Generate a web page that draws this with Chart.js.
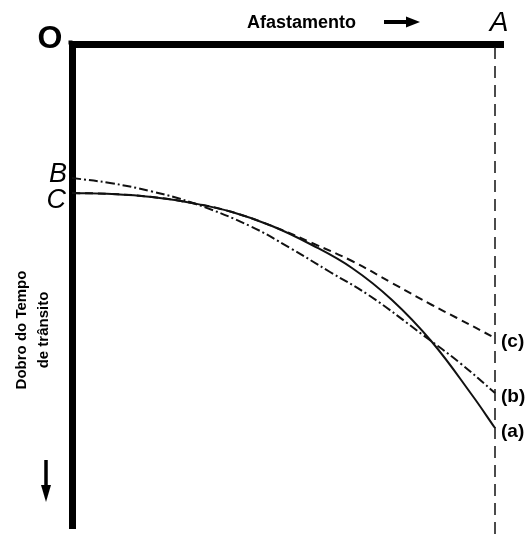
<!DOCTYPE html>
<html>
<head>
<meta charset="utf-8">
<script src="https://cdn.jsdelivr.net/npm/chart.js@4.4.0/dist/chart.umd.min.js"></script>
<style>
  html, body { margin: 0; padding: 0; background: #fff; }
  #wrap { width: 532px; height: 535px; }
</style>
</head>
<body>
<div id="wrap"><canvas id="c" width="532" height="535"></canvas></div>
<script>
// offsets along the profile (afastamento) and two-way times
const offsetA = [0, 40, 80, 120, 160, 200, 240, 280, 320, 360, 400, 423];
const timeA = [149, 150, 153, 159, 168, 182, 201, 224, 256, 298, 351, 384];

const offsetB = [0, 38, 78, 121, 178, 218, 258, 298, 351, 388, 423];
const timeB = [134, 139, 147, 159, 182, 204, 228, 252, 291, 319, 349];

const offsetC = [0, 40, 80, 120, 160, 200, 240, 280, 320, 360, 385, 423];
const timeC = [149, 150, 153, 159, 168, 182, 199, 217, 239, 261, 274, 294];

// vertical reference line at A
const offsetMark = [423, 423];
const timeMark = [3, 491];

const curveLabels = ["(a)", "(b)", "(c)"];
const startLabels = ["B", "C"];
const xTitle = "Afastamento";
const yTitle = ["Dobro do Tempo", "de trânsito"];

const FONT = "'Liberation Sans', Arial, Helvetica, sans-serif";

function pts(xs, ys) {
  return xs.map((x, i) => ({ x: x, y: ys[i] }));
}

// draws the text labels and the two arrows
const labelsPlugin = {
  id: "labels",
  afterDraw(chart) {
    const ctx = chart.ctx;
    const sx = chart.scales.x;
    const sy = chart.scales.y;
    const area = chart.chartArea;
    ctx.save();
    ctx.fillStyle = "#000";
    ctx.strokeStyle = "#000";

    // fill the top-left corner of the axes
    ctx.fillRect(area.left - 3.5, area.top - 3.5, 4, 4);

    // O
    ctx.font = "bold 32px " + FONT;
    ctx.textAlign = "center";
    ctx.textBaseline = "alphabetic";
    ctx.fillText("O", 50, 48);

    // Afastamento + arrow
    ctx.font = "bold 18px " + FONT;
    ctx.textAlign = "left";
    ctx.fillText(xTitle, 247, 28);
    ctx.lineWidth = 4;
    ctx.beginPath();
    ctx.moveTo(384, 22);
    ctx.lineTo(408, 22);
    ctx.stroke();
    ctx.beginPath();
    ctx.moveTo(420, 22);
    ctx.lineTo(406, 16.5);
    ctx.lineTo(406, 27.5);
    ctx.closePath();
    ctx.fill();

    // A
    const xa = sx.getPixelForValue(offsetMark[0]);
    ctx.font = "italic 28px " + FONT;
    ctx.textAlign = "center";
    ctx.fillText("A", xa + 4, 31);

    // B and C
    ctx.font = "italic 27px " + FONT;
    ctx.textAlign = "right";
    ctx.fillText(startLabels[0], 67, sy.getPixelForValue(timeB[0]) + 4);
    ctx.fillText(startLabels[1], 66, sy.getPixelForValue(timeA[0]) + 15);

    // (a) (b) (c)
    ctx.font = "bold 19px " + FONT;
    ctx.textAlign = "left";
    ctx.textBaseline = "middle";
    const ends = [timeA[timeA.length - 1], timeB[timeB.length - 1], timeC[timeC.length - 1]];
    curveLabels.forEach((t, i) => {
      ctx.fillText(t, xa + 6, sy.getPixelForValue(ends[i]) + 4);
    });

    // y title, rotated
    ctx.font = "bold 15px " + FONT;
    ctx.textAlign = "center";
    ctx.save();
    ctx.translate(22, 330);
    ctx.rotate(-Math.PI / 2);
    ctx.fillText(yTitle[0], 0, 0);
    ctx.restore();
    ctx.save();
    ctx.translate(44, 330);
    ctx.rotate(-Math.PI / 2);
    ctx.fillText(yTitle[1], 0, 0);
    ctx.restore();

    // down arrow
    ctx.lineWidth = 3.5;
    ctx.beginPath();
    ctx.moveTo(46, 460);
    ctx.lineTo(46, 488);
    ctx.stroke();
    ctx.beginPath();
    ctx.moveTo(46, 502);
    ctx.lineTo(41, 485);
    ctx.lineTo(51, 485);
    ctx.closePath();
    ctx.fill();

    ctx.restore();
  }
};

const lineStyle = {
  showLine: true,
  pointRadius: 0,
  borderColor: "#111",
  fill: false,
  tension: 0.4
};

new Chart(document.getElementById("c"), {
  type: "scatter",
  data: {
    datasets: [
      Object.assign({}, lineStyle, { label: curveLabels[0], data: pts(offsetA, timeA), borderWidth: 2 }),
      Object.assign({}, lineStyle, { label: curveLabels[1], data: pts(offsetB, timeB), borderWidth: 2, borderDash: [9, 3, 2, 3] }),
      Object.assign({}, lineStyle, { label: curveLabels[2], data: pts(offsetC, timeC), borderWidth: 2, borderDash: [8, 5] }),
      Object.assign({}, lineStyle, { label: "A", data: pts(offsetMark, timeMark), borderWidth: 1.5, borderDash: [12, 7], tension: 0, clip: false })
    ]
  },
  options: {
    responsive: false,
    animation: false,
    layout: { padding: { left: 72, top: 44, right: 29, bottom: 7 } },
    plugins: { legend: { display: false }, tooltip: { enabled: false } },
    scales: {
      x: {
        type: "linear",
        position: "top",
        min: 0,
        max: 431,
        ticks: { display: false },
        grid: { display: false, drawTicks: false, tickLength: 0 },
        border: { display: true, width: 7, color: "#000" }
      },
      y: {
        type: "linear",
        reverse: true,
        min: 0,
        max: 484,
        ticks: { display: false },
        grid: { display: false, drawTicks: false, tickLength: 0 },
        border: { display: true, width: 7, color: "#000" }
      }
    }
  },
  plugins: [labelsPlugin]
});
</script>
</body>
</html>
